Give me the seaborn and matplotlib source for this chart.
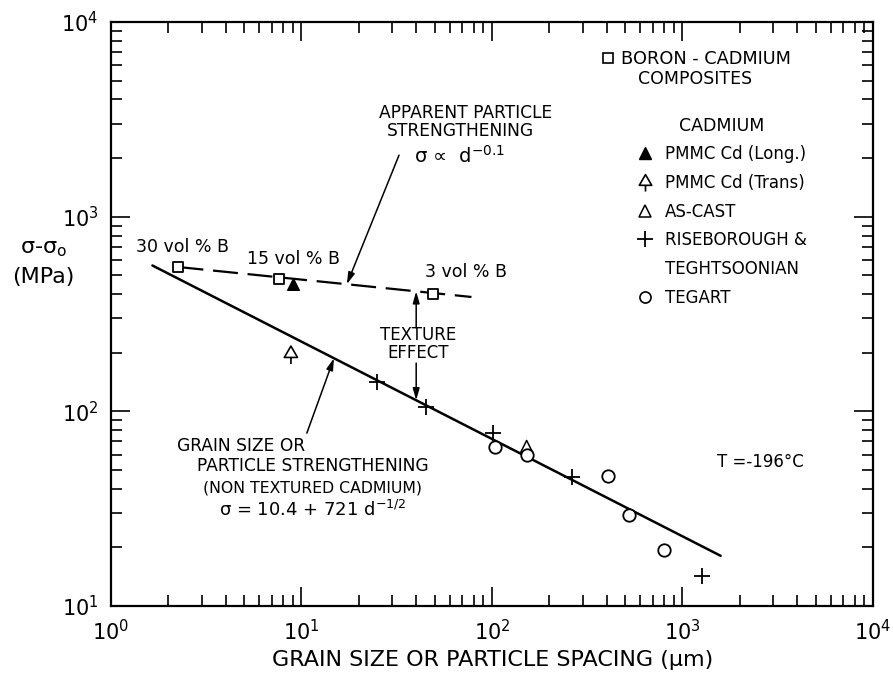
import numpy as np
import pandas as pd
import matplotlib
matplotlib.use("Agg")
import matplotlib.pyplot as plt
import seaborn as sns
from matplotlib.path import Path
from matplotlib.lines import Line2D

# ---- data: grain size / particle spacing (um) vs flow stress increment (MPa)
boron_spacing = [2.26, 7.6, 49.0]
boron_stress = [551, 476, 399]
boron_labels = ["30 vol % B", "15 vol % B", "3 vol % B"]

long_spacing = [9.06]
long_stress = [453]

trans_spacing = [8.8]
trans_stress = [196]

cast_spacing = [152]
cast_stress = [66]

rt_spacing = [25.0, 45.0, 101.6, 262, 1262]
rt_stress = [141, 105, 77.4, 45.9, 14.2]

tegart_spacing = [104, 152, 408, 524, 803]
tegart_stress = [65.3, 59.8, 46.3, 29.2, 19.4]

# Hall-Petch fit for non-textured cadmium: 721 d^-1/2 (sigma0 = 10.4 removed)
hp_coef, hp_exp = 721.0, -0.5
hp_range = [1.65, 1585]
# apparent particle strengthening: sigma ~ d^-0.1
ap_coef, ap_exp = 598.0, -0.1
ap_range = [2.26, 78]

x_ticks = [1, 10, 100, 1000, 10000]
x_ticklabels = [r"$10^{0}$", r"$10^{1}$", r"$10^{2}$", r"$10^{3}$", r"$10^{4}$"]
y_ticks = [10, 100, 1000, 10000]
y_ticklabels = [r"$10^{1}$", r"$10^{2}$", r"$10^{3}$", r"$10^{4}$"]


def hall_petch(d):
    return hp_coef * np.asarray(d, dtype=float) ** hp_exp


def particle(d):
    return ap_coef * np.asarray(d, dtype=float) ** ap_exp


sns.set_style("ticks")
plt.rcParams["font.family"] = ["DejaVu Sans"]
plt.rcParams["mathtext.fontset"] = "dejavusans"
plt.rcParams["lines.scale_dashes"] = False
for key in ("text.color", "axes.labelcolor", "xtick.color", "ytick.color",
            "axes.edgecolor"):
    plt.rcParams[key] = "black"

fig = plt.figure(figsize=(8.93, 6.94), dpi=100)
ax = fig.add_axes([0.1243, 0.1268, 0.8533, 0.8415])
ax.set_xscale("log")
ax.set_yscale("log")

# fitted lines
hp_df = pd.DataFrame({"d": hp_range, "s": hall_petch(hp_range)})
sns.lineplot(data=hp_df, x="d", y="s", color="black", lw=1.8, ax=ax, zorder=2)
ap_df = pd.DataFrame({"d": ap_range, "s": particle(ap_range)})
sns.lineplot(data=ap_df, x="d", y="s", color="black", lw=1.6, ax=ax, zorder=2)
ax.lines[-1].set_dashes([18, 7])

# trans marker: open triangle on a short stem
trans_marker = Path(
    [(0, 0.7), (-0.55, -0.25), (0.55, -0.25), (0, 0.7), (0, -0.25), (0, -0.8)],
    [Path.MOVETO, Path.LINETO, Path.LINETO, Path.CLOSEPOLY, Path.MOVETO, Path.LINETO],
)

mk = dict(ax=ax, zorder=4, legend=False)
sns.scatterplot(x=boron_spacing, y=boron_stress, marker="s", s=60,
                facecolor="white", edgecolor="black", linewidth=1.3, **mk)
sns.scatterplot(x=long_spacing, y=long_stress, marker="^", s=70,
                color="black", edgecolor="black", linewidth=1.0, **mk)
sns.scatterplot(x=trans_spacing, y=trans_stress, marker=trans_marker, s=190,
                facecolor="none", edgecolor="black", linewidth=1.2, **mk)
sns.scatterplot(x=cast_spacing, y=cast_stress, marker="^", s=75,
                facecolor="none", edgecolor="black", linewidth=1.1, **mk)
sns.scatterplot(x=rt_spacing, y=rt_stress, marker="+", s=140,
                color="black", linewidth=1.3, **mk)
sns.scatterplot(x=tegart_spacing, y=tegart_stress, marker="o", s=80,
                facecolor="white", edgecolor="black", linewidth=1.3, **mk)

# composite labels
label_offsets = [(4, 20), (15, 20), (33, 22)]
for d, s, lab, off in zip(boron_spacing, boron_stress, boron_labels, label_offsets):
    ax.annotate(lab, (d, s), xytext=off, textcoords="offset pixels",
                ha="center", va="center", fontsize=12.5)

arrow = dict(arrowstyle="-|>,head_length=0.7,head_width=0.2", color="black",
             lw=1.1, shrinkA=0, shrinkB=0)

# apparent particle strengthening
ax.text(0.465, 0.844, "APPARENT PARTICLE", transform=ax.transAxes,
        ha="center", va="center", fontsize=12.3)
ax.text(0.459, 0.813, "STRENGTHENING", transform=ax.transAxes,
        ha="center", va="center", fontsize=12.3)
ax.text(0.457, 0.770, "σ ∝  d$^{-0.1}$", transform=ax.transAxes,
        ha="center", va="center", fontsize=14)
ax.annotate("", xy=(17.3, particle(17.3)), xytext=(0.378, 0.772),
            textcoords="axes fraction", arrowprops=arrow)

# texture effect
ax.text(0.403, 0.449, "TEXTURE\nEFFECT", transform=ax.transAxes,
        ha="center", va="center", fontsize=12, linespacing=1.0)
ax.annotate("", xy=(40, particle(40)), xytext=(40, 268), arrowprops=arrow)
ax.annotate("", xy=(40, hall_petch(40)), xytext=(40, 177), arrowprops=arrow)

# grain size strengthening
ax.text(0.0866, 0.274, "GRAIN SIZE OR", transform=ax.transAxes,
        ha="left", va="center", fontsize=12.3)
ax.text(0.265, 0.240, "PARTICLE STRENGTHENING", transform=ax.transAxes,
        ha="center", va="center", fontsize=12.3)
ax.text(0.265, 0.202, "(NON TEXTURED CADMIUM)", transform=ax.transAxes,
        ha="center", va="center", fontsize=11.3)
ax.text(0.265, 0.164, "σ = 10.4 + 721 d$^{-1/2}$", transform=ax.transAxes,
        ha="center", va="center", fontsize=13)
ax.annotate("", xy=(14.8, hall_petch(14.8)), xytext=(0.257, 0.296),
            textcoords="axes fraction", arrowprops=arrow)

ax.text(0.852, 0.247, "T =-196°C", transform=ax.transAxes,
        ha="center", va="center", fontsize=12)

# legends
h_sq = Line2D([], [], ls="none", marker="s", ms=7.5, mfc="white", mec="black", mew=1.2)
leg1 = ax.legend([h_sq], ["BORON - CADMIUM"], loc="upper left",
                 bbox_to_anchor=(0.640, 0.952), frameon=False, fontsize=12.8,
                 handlelength=1.0, handletextpad=0.25, borderpad=0, borderaxespad=0)
ax.add_artist(leg1)
ax.text(0.766, 0.902, "COMPOSITES", transform=ax.transAxes,
        ha="center", va="center", fontsize=12.5)

handles = [
    Line2D([], [], ls="none", marker="^", ms=8, mfc="black", mec="black"),
    Line2D([], [], ls="none", marker=trans_marker, ms=13, mfc="none", mec="black", mew=1.2),
    Line2D([], [], ls="none", marker="^", ms=8, mfc="none", mec="black", mew=1.1),
    Line2D([], [], ls="none", marker="+", ms=11, mec="black", mew=1.3),
    Line2D([], [], ls="none"),
    Line2D([], [], ls="none", marker="o", ms=8, mfc="white", mec="black", mew=1.2),
]
labels = ["PMMC Cd (Long.)", "PMMC Cd (Trans)", "AS-CAST",
          "RISEBOROUGH &", "TEGHTSOONIAN", "TEGART"]
leg2 = ax.legend(handles, labels, title="CADMIUM", loc="upper left",
                 bbox_to_anchor=(0.690, 0.838), frameon=False, fontsize=12,
                 title_fontsize=12.5, handlelength=1.0, handletextpad=0.7,
                 labelspacing=0.64, borderpad=0, borderaxespad=0)

# axes formatting
ax.set_xlim(1, 1e4)
ax.set_ylim(10, 1e4)
ax.set_xticks(x_ticks)
ax.set_xticklabels(x_ticklabels, fontsize=15)
ax.set_yticks(y_ticks)
ax.set_yticklabels(y_ticklabels, fontsize=15)
ax.tick_params(which="both", direction="in", top=True, right=True,
               width=1.2, color="black")
ax.tick_params(which="major", length=14, pad=9)
ax.tick_params(which="minor", length=8)
for sp in ax.spines.values():
    sp.set_visible(True)
    sp.set_linewidth(1.6)
    sp.set_color("black")

ax.set_xlabel("GRAIN SIZE OR PARTICLE SPACING (μm)", fontsize=16, va="center")
ax.xaxis.set_label_coords(0.501, -0.092)
ax.set_ylabel("σ-σ$_{\\rm o}$" + "\n(MPa)", fontsize=16, rotation=0,
              ha="center", va="center", linespacing=1.5)
ax.yaxis.set_label_coords(-0.089, 0.587)

fig.savefig("out.png", dpi=100, facecolor="white")
